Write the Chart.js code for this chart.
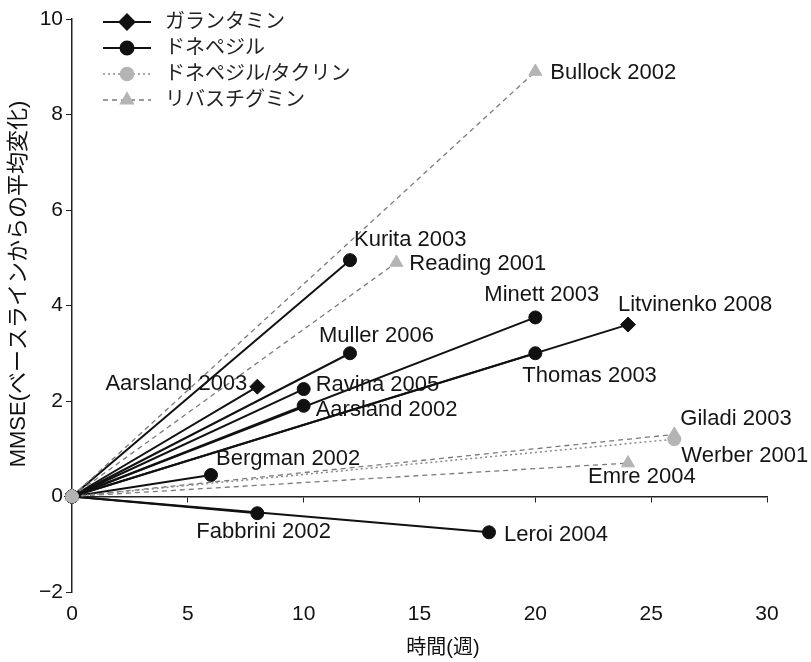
<!DOCTYPE html>
<html lang="ja">
<head>
<meta charset="utf-8">
<script src="https://cdn.jsdelivr.net/npm/chart.js@4"></script>
<style>
  html, body { margin: 0; padding: 0; background: #fff; }
  #wrap { position: relative; width: 811px; height: 662px; }
</style>
</head>
<body>
<div id="wrap"><canvas id="chart"></canvas></div>
<script>
// ===== MMSE change vs. time, one line per study from baseline =====

const drugNames = ['ガランタミン', 'ドネペジル', 'ドネペジル/タクリン', 'リバスチグミン'];

const studyNames = [
    'Aarsland 2003', 'Litvinenko 2008',
    'Kurita 2003', 'Muller 2006', 'Ravina 2005', 'Aarsland 2002', 'Minett 2003',
    'Thomas 2003', 'Bergman 2002', 'Fabbrini 2002', 'Leroi 2004',
    'Werber 2001',
    'Bullock 2002', 'Reading 2001', 'Giladi 2003', 'Emre 2004',
];
// index into drugNames
const studyDrug = [0, 0, 1, 1, 1, 1, 1, 1, 1, 1, 1, 2, 3, 3, 3, 3];
// weeks
const studyWeeks = [8, 24, 12, 12, 10, 10, 20, 20, 6, 8, 18, 26, 20, 14, 26, 24];
// mean change in MMSE from baseline
const studyChange = [2.3, 3.6, 4.95, 3.0, 2.25, 1.9, 3.75, 3.0, 0.45, -0.35, -0.75, 1.2, 8.9, 4.9, 1.3, 0.7];

const xTitle = '時間(週)';
const yTitle = 'MMSE(ベースラインからの平均変化)';

// label offset from the end point: [dx, dy, align]
const labelPlacement = [
    [-10, -3, 'right'], [-10, -20, 'left'],
    [4, -20, 'left'], [-31, -17, 'left'], [12, -4, 'left'], [12, 4, 'left'], [-51, -23, 'left'],
    [-13, 23, 'left'], [5, -16, 'left'], [-61, 19, 'left'], [15, 3, 'left'],
    [7, 17, 'left'],
    [15, 1, 'left'], [13, 1, 'left'], [6, -15, 'left'], [-40, 14, 'left'],
];

const FONT = "'Liberation Sans', 'Noto Sans CJK JP', Arial, sans-serif";

const drugStyles = [
    { line: '#111', fill: '#111', pointStyle: 'rectRot', radius: 7.5, dash: [], width: 2, order: 1 },
    { line: '#111', fill: '#111', pointStyle: 'circle', radius: 6.5, dash: [], width: 2, order: 1 },
    { line: '#8a8a8a', fill: '#b4b4b4', pointStyle: 'circle', radius: 6.5, dash: [2, 3], width: 1.5, order: 0 },
    { line: '#7a7a7a', fill: '#b4b4b4', pointStyle: 'triangle', radius: 7.5, dash: [5, 4], width: 1.3, order: 0 },
];

const datasets = studyNames.map((name, i) => {
    const s = drugStyles[studyDrug[i]];
    return {
        label: name,
        data: [{ x: 0, y: 0 }, { x: studyWeeks[i], y: studyChange[i] }],
        borderColor: s.line,
        borderWidth: s.width,
        borderDash: s.dash,
        pointStyle: s.pointStyle,
        pointRadius: s.radius,
        pointBackgroundColor: s.fill,
        pointBorderColor: s.fill,
        pointBorderWidth: 1,
        order: s.order,
        clip: false,
    };
});

/** Study labels, legend and axis titles */
const annotations = {
    id: 'annotations',
    afterDatasetsDraw(chart) {
        const { ctx } = chart;
        ctx.save();
        ctx.fillStyle = '#151515';
        ctx.textBaseline = 'middle';
        ctx.font = '22px ' + FONT;
        chart.data.datasets.forEach((ds, i) => {
            const pt = chart.getDatasetMeta(i).data[1];
            const [dx, dy, align] = labelPlacement[i];
            ctx.textAlign = align;
            ctx.fillText(ds.label, pt.x + dx, pt.y + dy);
        });

        // legend
        drugNames.forEach((name, k) => {
            const s = drugStyles[k];
            const y = 22 + k * 26;
            ctx.strokeStyle = s.line;
            ctx.lineWidth = s.width;
            ctx.setLineDash(s.dash);
            ctx.beginPath();
            ctx.moveTo(103, y);
            ctx.lineTo(151, y);
            ctx.stroke();
            ctx.setLineDash([]);
            ctx.fillStyle = s.fill;
            ctx.strokeStyle = s.fill;
            Chart.helpers.drawPoint(ctx, {
                pointStyle: s.pointStyle, radius: s.radius, borderWidth: 1, rotation: 0,
            }, 127, y);
            ctx.fillStyle = '#222';
            ctx.textAlign = 'left';
            ctx.font = '20px ' + FONT;
            ctx.fillText(name, 165, y);
        });

        // axis titles
        ctx.fillStyle = '#111';
        ctx.textAlign = 'center';
        ctx.font = '20px ' + FONT;
        ctx.fillText(xTitle, 443, 648);
        ctx.translate(19, 284);
        ctx.rotate(-Math.PI / 2);
        ctx.font = '22px ' + FONT;
        ctx.fillText(yTitle, 0, 0);
        ctx.restore();
    },
};

const tickFont = { size: 21, family: FONT };

new Chart(document.getElementById('chart'), {
    type: 'line',
    data: { datasets },
    options: {
        responsive: true,
        maintainAspectRatio: false,
        animation: false,
        layout: { padding: { top: 19, right: 44, bottom: 0, left: 0 } },
        plugins: {
            legend: { display: false },
            tooltip: { enabled: false },
        },
        scales: {
            x: {
                type: 'linear',
                min: 0,
                max: 30,
                position: { y: 0 },
                grid: { drawOnChartArea: false, drawTicks: true, tickLength: 5, color: '#222' },
                border: { color: '#222', width: 1.5 },
                ticks: { display: false, stepSize: 5 },
            },
            x2: {
                type: 'linear',
                min: 0,
                max: 30,
                position: 'bottom',
                grid: { display: false },
                border: { display: false },
                ticks: { stepSize: 5, color: '#111', font: tickFont, padding: 2 },
                afterFit: (scale) => { scale.height = 70; },
            },
            y: {
                type: 'linear',
                min: -2,
                max: 10,
                grid: { drawOnChartArea: false, drawTicks: true, tickLength: 6, color: '#222' },
                border: { color: '#222', width: 1.5 },
                ticks: {
                    stepSize: 2,
                    color: '#111',
                    font: tickFont,
                    padding: 3,
                    callback: (v) => (v < 0 ? '−' + Math.abs(v) : v),
                },
                afterFit: (scale) => { scale.width = 72; },
            },
        },
    },
    plugins: [annotations],
});
</script>
</body>
</html>
